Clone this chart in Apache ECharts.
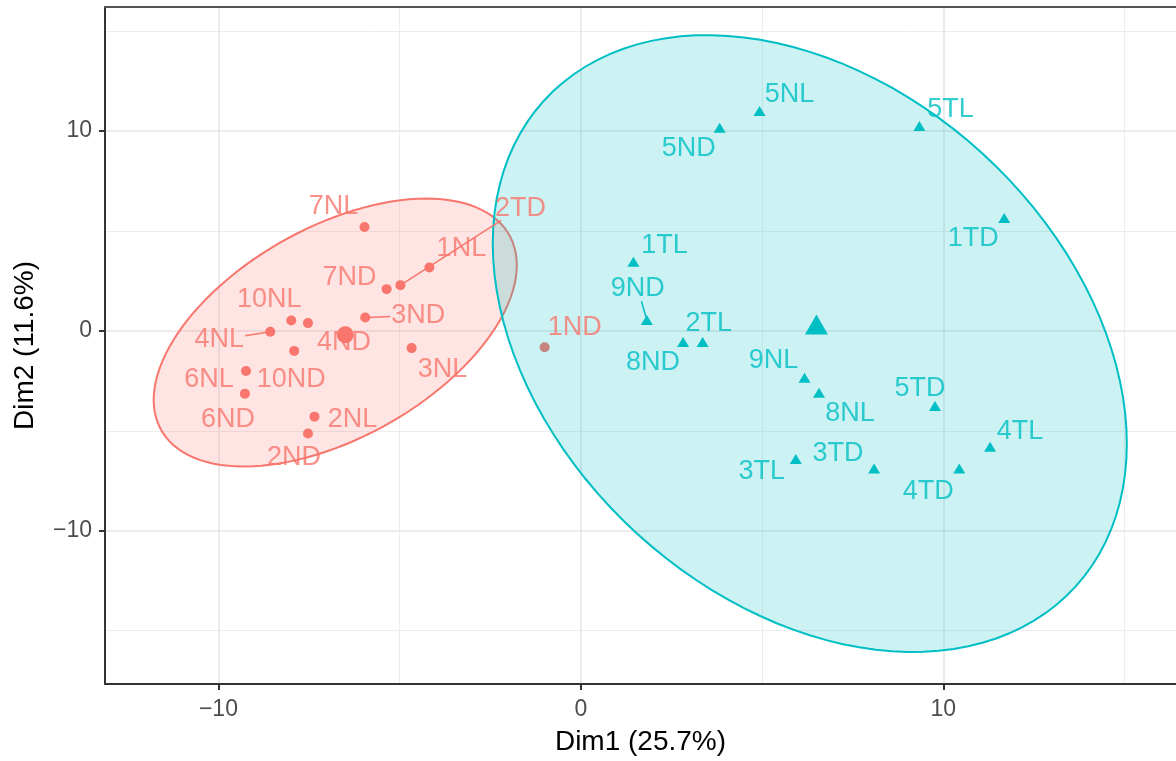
<!DOCTYPE html>
<html>
<head>
<meta charset="utf-8">
<script src="https://cdn.jsdelivr.net/npm/echarts@6/dist/echarts.min.js"></script>
<style>
html,body{margin:0;padding:0;background:#ffffff;}
#chart{width:1176px;height:761px;}
</style>
</head>
<body>
<div id="chart"></div>
<script>
// ---------------- data ----------------
const redNames = ['7NL','1NL','7ND','2TD','3ND','10NL','4ND','4NL','10ND','3NL','6NL','6ND','2NL','2ND','1ND'];
const redDim1  = [-5.97,-4.18,-5.36,-4.98,-5.95,-7.99,-7.53,-8.57,-7.91,-4.67,-9.24,-9.27,-7.35,-7.53,-1.00];
const redDim2  = [5.20,3.17,2.09,2.29,0.67,0.52,0.39,-0.04,-1.00,-0.86,-2.01,-3.14,-4.29,-5.13,-0.82];

const blueNames = ['5NL','5ND','5TL','1TD','1TL','9ND','8ND','2TL','9NL','8NL','5TD','4TL','3TL','3TD','4TD'];
const blueDim1  = [4.93,3.83,9.34,11.68,1.45,1.82,2.82,3.36,6.17,6.57,9.77,11.29,5.93,8.09,10.44];
const blueDim2  = [11.00,10.17,10.25,5.65,3.46,0.55,-0.56,-0.56,-2.35,-3.09,-3.76,-5.80,-6.41,-6.88,-6.88];

const xTickValues = [-10, 0, 10];
const yTickValues = [-10, 0, 10];
const xMinorValues = [-15, -5, 5, 15];
const yMinorValues = [-15, -5, 5, 15];
const xTitle = 'Dim1 (25.7%)';
const yTitle = 'Dim2 (11.6%)';

// ---------------- label placement (styling, pixel nudges) ----------------
const labelNudge = {
  '7NL':[-31,-20],'1NL':[32,-19],'7ND':[-37,-12],'2TD':[120,-77],'3ND':[53,-2],
  '10NL':[-22,-21],'4ND':[36,19],'4NL':[-51,8],'10ND':[-3,29],'3NL':[31,21],
  '6NL':[-37,8],'6ND':[-17,26],'2NL':[38,3],'2ND':[-14,24],'1ND':[30,-20],
  '5NL':[30,-17],'5ND':[-31,21],'5TL':[31,-17],'1TD':[-31,21],'1TL':[31,-16],
  '9ND':[-9,-31],'8ND':[-30,20],'2TL':[6,-19],'9NL':[-31,-17],'8NL':[31,21],
  '5TD':[-15,-17],'4TL':[30,-15],'3TL':[-34,13],'3TD':[-36,-15],'4TD':[-31,23]
};
const withSegment = ['2TD','3ND','4NL','9ND'];

// ---------------- styling ----------------
const RED = '#F8766D', BLUE = '#00BFC4';
const FONT = '"Liberation Sans", Arial, Helvetica, sans-serif';
const LABEL_SIZE = 27;
const X_MIN = -13.13, X_MAX = 16.42, Y_MIN = -17.67, Y_MAX = 16.21;

// ---------------- helpers ----------------
function mean(a){ return a.reduce((s,v)=>s+v,0)/a.length; }
// robust t covariance (as MASS::cov.trob, nu = 5) used by stat_ellipse(type = "t")
function covTrob(xs, ys){
  const n = xs.length, p = 2, nu = 5, maxit = 25, tol = 0.01;
  let w = new Array(n).fill(1);
  let loc = [mean(xs), mean(ys)];
  let X = [];
  for (let it = 0; it < maxit; it++){
    const w0 = w.slice();
    X = xs.map((x,i)=>[x-loc[0], ys[i]-loc[1]]);
    const sw = w.reduce((s,v)=>s+v,0);
    let a=0,b=0,c=0;
    X.forEach((v,i)=>{ a+=w[i]/sw*v[0]*v[0]; b+=w[i]/sw*v[0]*v[1]; c+=w[i]/sw*v[1]*v[1]; });
    const det = a*c-b*b;
    const Q = X.map(v=>(c*v[0]*v[0]-2*b*v[0]*v[1]+a*v[1]*v[1])/det);
    w = Q.map(q=>(nu+p)/(nu+q));
    const sw2 = w.reduce((s,v)=>s+v,0);
    loc = [xs.reduce((s,x,i)=>s+w[i]*x,0)/sw2, ys.reduce((s,y,i)=>s+w[i]*y,0)/sw2];
    if (w.every((v,i)=>Math.abs(v-w0[i])<tol)) break;
  }
  let a=0,b=0,c=0;
  X.forEach((v,i)=>{ a+=w[i]*v[0]*v[0]; b+=w[i]*v[0]*v[1]; c+=w[i]*v[1]*v[1]; });
  return {center: loc, cov: [a/n, b/n, c/n]};
}
function qf2(p, d){ return d/2*(Math.pow(1-p, -2/d)-1); }
function ellipse(xs, ys, level, segments){
  const {center, cov} = covTrob(xs, ys);
  const r = Math.sqrt(2*qf2(level, xs.length-1));
  const u11 = Math.sqrt(cov[0]), u12 = cov[1]/u11, u22 = Math.sqrt(cov[2]-u12*u12);
  const pts = [];
  for (let i = 0; i <= segments; i++){
    const t = 2*Math.PI*i/segments, ct = Math.cos(t), st = Math.sin(t);
    pts.push([center[0] + r*ct*u11, center[1] + r*(ct*u12 + st*u22)]);
  }
  return pts;
}
const fmt = v => v < 0 ? '\u2212' + Math.abs(v) : String(v);

const measureCtx = document.createElement('canvas').getContext('2d');
function textWidth(s){
  measureCtx.font = LABEL_SIZE + 'px ' + FONT;
  return measureCtx.measureText(s).width;
}

const redEll = ellipse(redDim1, redDim2, 0.95, 120);
const blueEll = ellipse(blueDim1, blueDim2, 0.95, 120);

function ellipseSeries(pts, color, fill, z){
  return {
    type: 'custom', coordinateSystem: 'cartesian2d', z: z, silent: true,
    data: [[mean(pts.map(p=>p[0])), mean(pts.map(p=>p[1]))]],
    renderItem: function(params, api){
      return { type: 'polygon', shape: { points: pts.map(p=>api.coord(p)) },
               style: { fill: fill, stroke: color, lineWidth: 2 } };
    }
  };
}
function pointSeries(xs, ys, symbol, size, color, z){
  return { type: 'scatter', z: z, silent: true, symbol: symbol, symbolSize: size,
    itemStyle: { color: color, opacity: 1 },
    data: xs.map((x,i)=>[x, ys[i]]) };
}
function labelSeries(names, xs, ys, color){
  return {
    type: 'scatter', z: 10, silent: true, symbol: 'circle', symbolSize: 9,
    itemStyle: { color: 'rgba(0,0,0,0)' },
    label: { show: true, position: 'inside', formatter: '{b}', color: color,
             fontSize: LABEL_SIZE, fontFamily: FONT },
    data: names.map((nm,i)=>({ name: nm, value: [xs[i], ys[i]], label: { offset: labelNudge[nm] } }))
  };
}
// connector segments from a point to its (nudged) label box
function segmentSeries(names, xs, ys, color){
  const idx = names.map((n,i)=>i).filter(i=>withSegment.indexOf(names[i]) >= 0);
  return {
    type: 'custom', coordinateSystem: 'cartesian2d', z: 9, silent: true,
    data: idx.map(i=>[xs[i], ys[i], i]),
    renderItem: function(params, api){
      const i = api.value(2);
      const p = api.coord([api.value(0), api.value(1)]);
      const nm = names[i], d = labelNudge[nm];
      const hw = textWidth(nm)/2 + 1, hh = LABEL_SIZE*0.42 + 1;
      const s = Math.min(hw/Math.max(Math.abs(d[0]),1e-6), hh/Math.max(Math.abs(d[1]),1e-6));
      const c = [p[0]+d[0], p[1]+d[1]];
      const end = [c[0]-s*d[0], c[1]-s*d[1]];
      const len = Math.hypot(d[0], d[1]), r0 = 3/len;
      const start = [p[0]+d[0]*r0, p[1]+d[1]*r0];
      return { type: 'line', shape: { x1: start[0], y1: start[1], x2: end[0], y2: end[1] },
               style: { stroke: color, lineWidth: 1.5 } };
    }
  };
}

const gridMinor = { show: true, lineStyle: { color: '#EDEDED', width: 1 } };
const gridMajor = { show: true, lineStyle: { color: '#E6E6E6', width: 1.6 } };

const option = {
  animation: false,
  backgroundColor: '#ffffff',
  textStyle: { fontFamily: FONT },
  grid: { left: 105, top: 7, right: -5, bottom: 73, containLabel: false },
  xAxis: [
    { type: 'value', min: X_MIN, max: X_MAX, position: 'bottom',
      axisLine: { show: true, onZero: false, lineStyle: { color: '#333333', width: 2 } },
      axisTick: { show: false, customValues: xMinorValues },
      axisLabel: { show: false }, splitLine: gridMinor },
    { type: 'value', min: X_MIN, max: X_MAX, position: 'bottom', offset: 0,
      axisLine: { show: false, onZero: false },
      axisTick: { show: true, customValues: xTickValues, length: 6, lineStyle: { color: '#333333', width: 2 } },
      axisLabel: { show: true, customValues: xTickValues, formatter: fmt, fontSize: 23, color: '#4D4D4D', margin: 14, fontFamily: FONT },
      splitLine: gridMajor,
      name: xTitle, nameLocation: 'middle', nameGap: 44,
      nameTextStyle: { fontSize: 28, color: '#000000', fontFamily: FONT } },
    { type: 'value', min: X_MIN, max: X_MAX, position: 'top',
      axisLine: { show: true, onZero: false, lineStyle: { color: '#555555', width: 2 } },
      axisTick: { show: false }, axisLabel: { show: false }, splitLine: { show: false } }
  ],
  yAxis: [
    { type: 'value', min: Y_MIN, max: Y_MAX, position: 'left',
      axisLine: { show: true, onZero: false, lineStyle: { color: '#333333', width: 2 } },
      axisTick: { show: false, customValues: yMinorValues },
      axisLabel: { show: false }, splitLine: gridMinor },
    { type: 'value', min: Y_MIN, max: Y_MAX, position: 'left', offset: 0,
      axisLine: { show: false, onZero: false },
      axisTick: { show: true, customValues: yTickValues, length: 6, lineStyle: { color: '#333333', width: 2 } },
      axisLabel: { show: true, customValues: yTickValues, formatter: fmt, fontSize: 23, color: '#4D4D4D', margin: 13, fontFamily: FONT },
      splitLine: gridMajor,
      name: yTitle, nameLocation: 'middle', nameGap: 66,
      nameTextStyle: { fontSize: 28, color: '#000000', fontFamily: FONT } }
  ],
  series: [
    ellipseSeries(redEll, RED, 'rgba(248,118,109,0.2)', 1),
    pointSeries(redDim1, redDim2, 'circle', 10, RED, 2),
    pointSeries([mean(redDim1)], [mean(redDim2)], 'circle', 17, RED, 2),
    ellipseSeries(blueEll, BLUE, 'rgba(0,191,196,0.2)', 3),
    pointSeries(blueDim1, blueDim2, 'triangle', [12, 10], BLUE, 4),
    pointSeries([mean(blueDim1)], [mean(blueDim2)], 'triangle', [23, 20], BLUE, 4),
    segmentSeries(redNames, redDim1, redDim2, RED),
    segmentSeries(blueNames, blueDim1, blueDim2, BLUE),
    labelSeries(redNames, redDim1, redDim2, RED),
    labelSeries(blueNames, blueDim1, blueDim2, BLUE)
  ]
};

const chart = echarts.init(document.getElementById('chart'), null, { renderer: 'canvas' });
chart.setOption(option);
</script>
</body>
</html>
